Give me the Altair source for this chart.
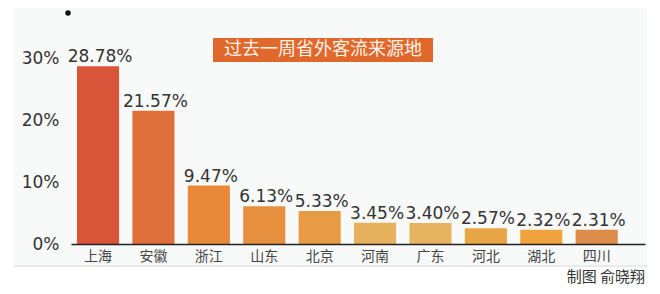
import altair as alt
import pandas as pd

provinces = ["上海", "安徽", "浙江", "山东", "北京", "河南", "广东", "河北", "湖北", "四川"]
values = [28.78, 21.57, 9.47, 6.13, 5.33, 3.45, 3.40, 2.57, 2.32, 2.31]
colors = ["#d9553a", "#e0703a", "#e8893a", "#e6903f", "#e89a45",
          "#e6b05c", "#e6b360", "#e8a546", "#f0a23c", "#de8c4a"]
y_ticks = [0, 10, 20, 30]
title_text = "过去一周省外客流来源地"
credit_text = "制图 俞晓翔"

df = pd.DataFrame({"province": provinces, "value": values})
one = alt.Data(values=[{}])

x_enc = alt.X("province:N", sort=provinces, title=None,
              scale=alt.Scale(paddingInner=0.24, paddingOuter=0.3, align=0.18),
              axis=alt.Axis(labelAngle=0, ticks=False, labelPadding=5,
                            labelFont="Noto Sans CJK SC", labelFontSize=14,
                            labelColor="#444", domainColor="#222",
                            domainWidth=1.5, zindex=1))
y_enc = alt.Y("value:Q", title=None,
              scale=alt.Scale(domain=[0, 37.9], nice=False),
              axis=alt.Axis(values=y_ticks, labelExpr="datum.value + '%'",
                            grid=False, domain=False, ticks=False,
                            labelPadding=12, labelFont="DejaVu Sans",
                            labelFontSize=17, labelColor="#333", zindex=1))

panel = alt.Chart(one).mark_rect(color="#f8f9f9").encode(
    x=alt.value(-57), x2=alt.value(576), y=alt.value(-10), y2=alt.value(255))
sep = alt.Chart(one).mark_rule(color="#e2e4e4", strokeWidth=1.5).encode(
    x=alt.value(-57), x2=alt.value(576), y=alt.value(256))

bars = alt.Chart(df).mark_bar().encode(
    x=x_enc, y=y_enc,
    color=alt.Color("province:N", scale=alt.Scale(domain=provinces, range=colors),
                    legend=None))

labels = alt.Chart(df).transform_calculate(
    lab="format(datum.value, '.2f') + '%'"
).mark_text(font="DejaVu Sans", fontSize=17, color="#333", dy=-4, dx=2,
            baseline="alphabetic").encode(
    x=alt.X("province:N", sort=provinces), y="value:Q", text="lab:N")

tbox = alt.Chart(one).mark_rect(color="#e0682c").encode(
    x=alt.value(142), x2=alt.value(362), y=alt.value(28), y2=alt.value(52))
ttext = alt.Chart(one).mark_text(text=title_text, font="Noto Sans CJK SC",
                                 fontSize=18, color="#fff3ea",
                                 align="center", baseline="middle").encode(
    x=alt.value(252), y=alt.value(40))
credit = alt.Chart(one).mark_text(text=credit_text, font="Noto Sans CJK SC",
                                  fontSize=15, color="#333", align="right",
                                  baseline="bottom").encode(
    x=alt.value(574), y=alt.value(275))
dot = alt.Chart(one).mark_circle(color="#111", size=30, opacity=1).encode(
    x=alt.value(-3), y=alt.value(3))

chart = alt.layer(panel, sep, bars, labels, tbox, ttext, credit, dot).properties(
    width=574, height=234,
    autosize=alt.AutoSizeParams(type="none"),
    padding={"left": 63, "top": 2, "right": 7, "bottom": 42},
).configure_view(stroke=None)

chart.save("out.html", embed_options={"renderer": "svg", "actions": False})
